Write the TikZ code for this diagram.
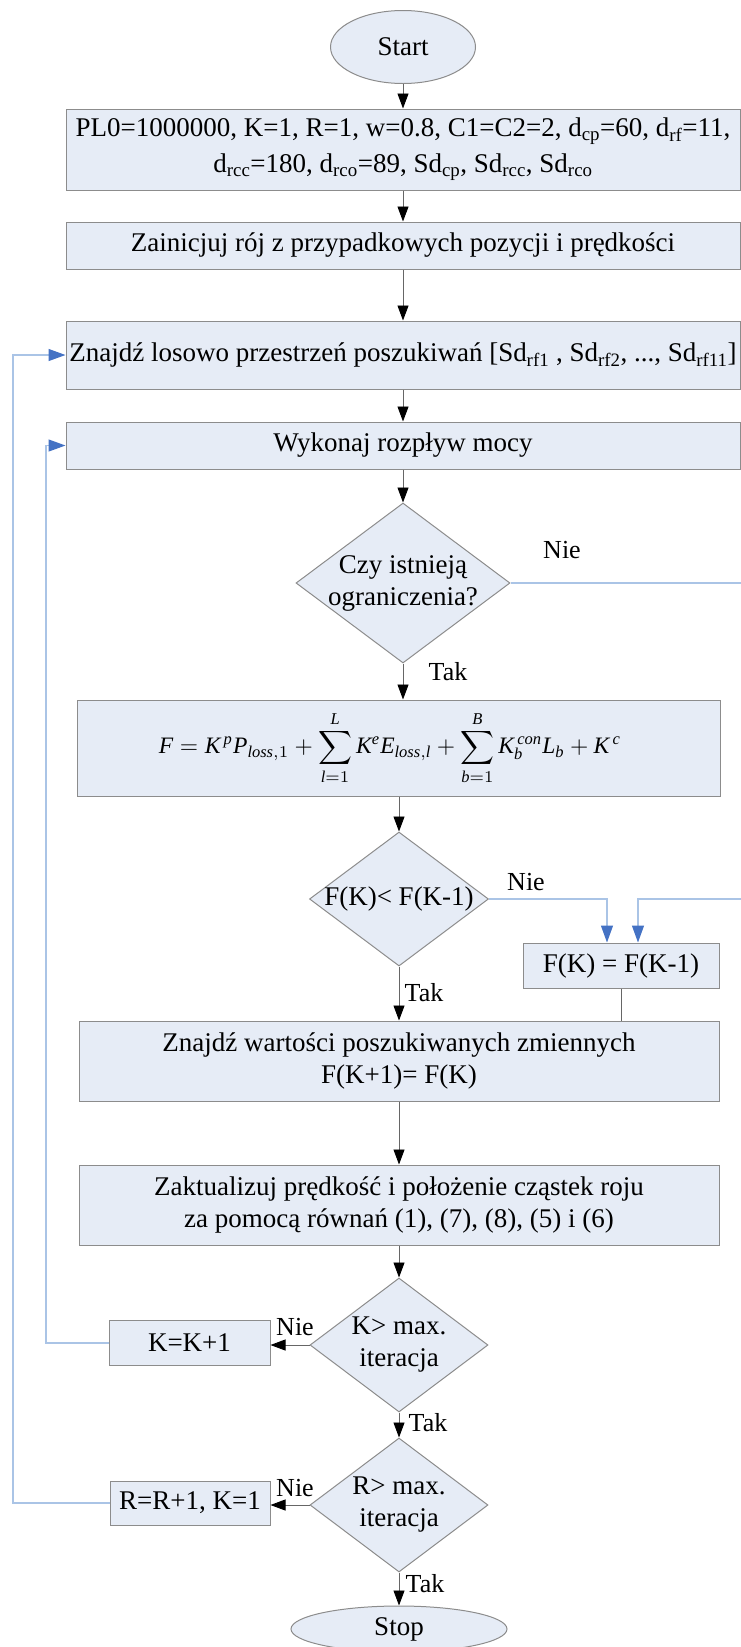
\documentclass[tikz,border=0pt]{standalone}
\usepackage{graphicx}
\usepackage{fontspec}
\setmainfont{Liberation Serif}
\usetikzlibrary{shapes.geometric,arrows.meta}
\definecolor{boxfill}{RGB}{230,236,246}
\definecolor{boxline}{RGB}{140,140,140}
\definecolor{loopline}{RGB}{170,196,230}
\definecolor{loophead}{RGB}{68,114,196}
\newcommand{\mv}[1]{\mathit{#1}}

\begin{document}
\begin{tikzpicture}[x=1pt,y=-1pt,
  every node/.style={font=\fontsize{27}{32}\selectfont},
  procbox/.style={draw=boxline,fill=boxfill,line width=1pt,rectangle,inner sep=0pt,align=center},
  term/.style={draw=boxline,fill=boxfill,line width=1pt,ellipse,inner sep=0pt},
  decision/.style={draw=boxline,fill=boxfill,line width=1pt,diamond,aspect=1.33,inner sep=-4pt,align=center},
  flow/.style={draw=black!60,line width=0.9pt,-{Triangle[length=15pt,width=11pt,color=black]}},
  loop/.style={draw=loopline,line width=1.2pt,-{Triangle[length=17pt,width=12pt,color=loophead]}},
  lbl/.style={font=\fontsize{26}{30}\selectfont,inner sep=0pt}]
\useasboundingbox (0,0) rectangle (741,1647);

%bloki
\node[term,minimum width=145pt,minimum height=73pt] (start) at (403,47) {Start};
\node[procbox,minimum width=674pt,minimum height=81pt] (init) at (403,149.5)
  {PL0=1000000, K=1, R=1, w=0.8, C1=C2=2, d\textsubscript{cp}=60, d\textsubscript{rf}=11,\\[4pt]
   d\textsubscript{rcc}=180, d\textsubscript{rco}=89, Sd\textsubscript{cp}, Sd\textsubscript{rcc}, Sd\textsubscript{rco}};
\node[procbox,minimum width=674pt,minimum height=47pt] (roj) at (403,245.5)
  {Zainicjuj rój z przypadkowych pozycji i prędkości};
\node[procbox,minimum width=674pt,minimum height=68pt] (przestrzen) at (403,355)
  {Znajdź losowo przestrzeń poszukiwań [Sd\textsubscript{rf1} , Sd\textsubscript{rf2}, ..., Sd\textsubscript{rf11}]};
\node[procbox,minimum width=674pt,minimum height=47pt] (rozplyw) at (403,445.5)
  {Wykonaj rozpływ mocy};
\node[decision,minimum width=214pt,minimum height=160pt] (ogr) at (403,583)
  {Czy istnieją\\ograniczenia?};
\node[procbox,minimum width=643pt,minimum height=96pt,font=\normalsize] (funkcja) at (399,748)
  {\resizebox{462pt}{!}{$\displaystyle \mv{F} = \mv{K}^{\,\mv{p}}\mv{P}_{\mv{loss},1} + \sum_{\mv{l}=1}^{\mv{L}} \mv{K}^{\mv{e}}\mv{E}_{\mv{loss},\mv{l}} + \sum_{\mv{b}=1}^{\mv{B}} \mv{K}_{\mv{b}}^{\,\mv{con}}\mv{L}_{\mv{b}} + \mv{K}^{\,\mv{c}}$}\hspace*{18pt}};
\node[decision,minimum width=179pt,minimum height=134pt] (porown) at (399,899)
  {F(K)< F(K-1)};
\node[procbox,minimum width=196pt,minimum height=45pt] (fkeq) at (621,965.5)
  {F(K) = F(K-1)};
\node[procbox,minimum width=640pt,minimum height=80pt] (znajdz) at (399,1061)
  {Znajdź wartości poszukiwanych zmiennych\\F(K+1)= F(K)};
\node[procbox,minimum width=640pt,minimum height=80pt] (aktual) at (399,1205)
  {Zaktualizuj prędkość i położenie cząstek roju\\za pomocą równań (1), (7), (8), (5) i (6)};
\node[decision,minimum width=178pt,minimum height=134pt] (kmax) at (399,1345)
  {K> max.\\iteracja};
\node[procbox,minimum width=161pt,minimum height=45pt] (kinc) at (189.5,1343)
  {K=K+1};
\node[decision,minimum width=178pt,minimum height=134pt] (rmax) at (399,1505)
  {R> max.\\iteracja};
\node[procbox,minimum width=160pt,minimum height=44pt] (rinc) at (190,1503)
  {R=R+1, K=1};
\node[term,minimum width=216pt,minimum height=46pt] (stop) at (399,1629) {Stop};

%punkty zalamania
\coordinate (kpath) at (46,1343);
\coordinate (rpath) at (13,1503);
\coordinate (npath) at (748,899);

%strzalki
\draw[flow] (start.south) -- (init.north);
\draw[flow] (init.south) -- (roj.north);
\draw[flow] (roj.south) -- (przestrzen.north);
\draw[flow] (przestrzen.south) -- (rozplyw.north);
\draw[flow] (rozplyw.south) -- (ogr.north);
\draw[flow] (ogr.south) -- (ogr.south |- funkcja.north);
\draw[flow] (porown.north |- funkcja.south) -- (porown.north);
\draw[flow] (porown.south) -- (znajdz.north);
\draw[flow] (znajdz.south) -- (aktual.north);
\draw[flow] (aktual.south) -- (kmax.north);
\draw[flow] (kmax.west) -- (kmax.west -| kinc.east);
\draw[flow] (kmax.south) -- (rmax.north);
\draw[flow] (rmax.west) -- (rmax.west -| rinc.east);
\draw[flow] (rmax.south) -- (stop.north);
\draw[draw=black!60,line width=0.9pt] (fkeq.south) -- (fkeq.south |- znajdz.north);

%powroty
\draw[loop] (porown.east) -| ([xshift=-14pt]fkeq.north);
\draw[loop] (ogr.east) -| (npath) -| ([xshift=17pt]fkeq.north);
\draw[loop] (kinc.west) -- (kpath) |- (rozplyw.west);
\draw[loop] (rinc.west) -- (rpath) |- (przestrzen.west);

%etykiety
\node[lbl] (nie1) at (562,550) {Nie};
\node[lbl] (tak1) at (448,672) {Tak};
\node[lbl] (nie2) at (526,882) {Nie};
\node[lbl] (tak2) at (424,993) {Tak};
\node[lbl] (nie3) at (295,1327) {Nie};
\node[lbl] (tak3) at (428,1423) {Tak};
\node[lbl] (nie4) at (295,1488) {Nie};
\node[lbl] (tak4) at (425,1584) {Tak};
\end{tikzpicture}
\end{document}
